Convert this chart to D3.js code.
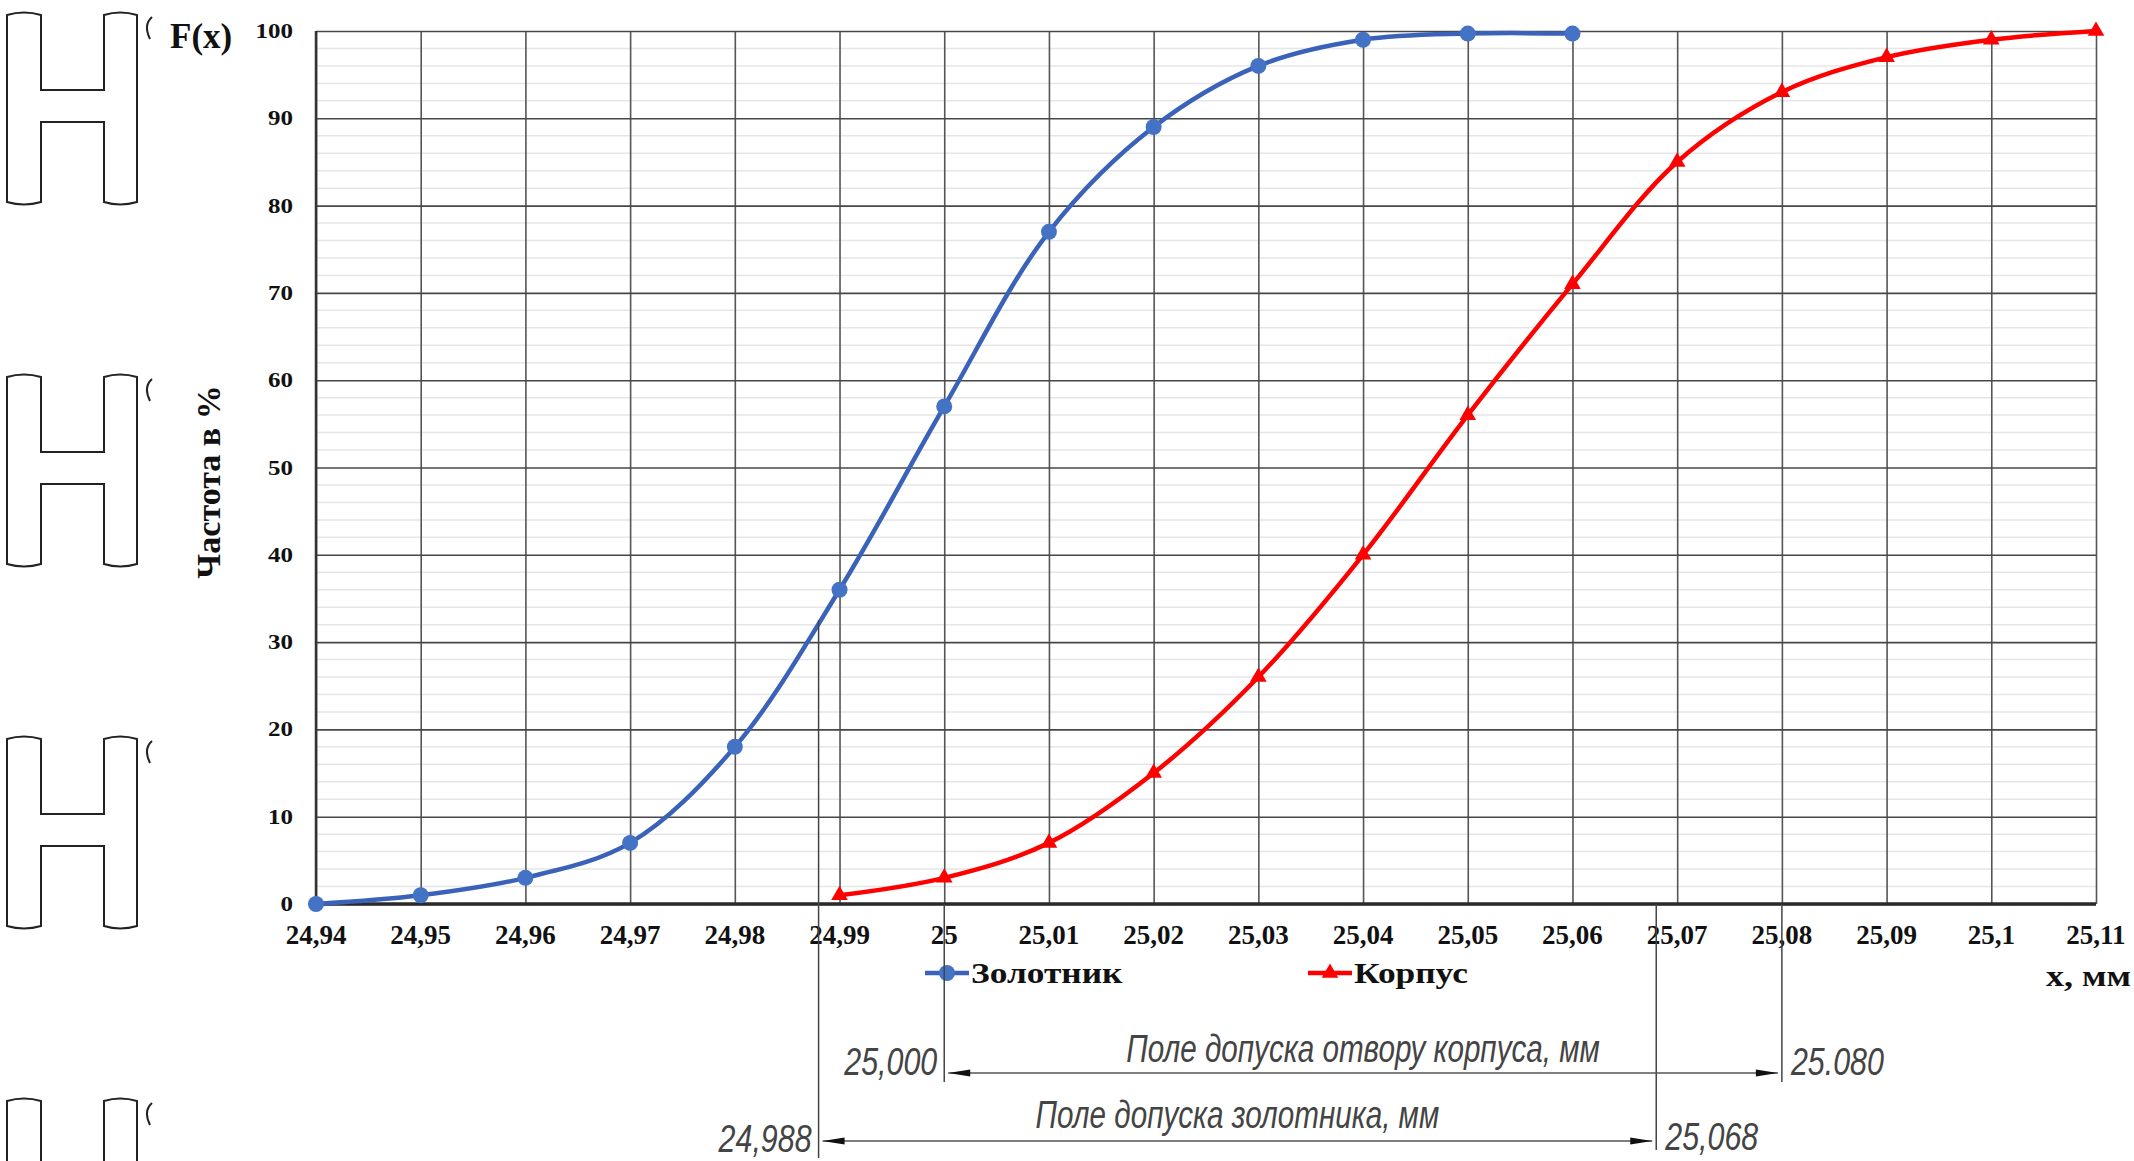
<!DOCTYPE html>
<html>
<head>
<meta charset="utf-8">
<script src="https://cdn.jsdelivr.net/npm/d3@7"></script>
<style>
body { margin: 0; background: #fff; }
svg { display: block; }
.serif { font-family: 'Liberation Serif', 'Times New Roman', serif; font-weight: bold; fill: #111; }
.gost { font-family: 'Liberation Sans', Arial, sans-serif; font-style: italic; fill: #444; }
</style>
</head>
<body>
<script>

// values
const xTicks = [24.94, 24.95, 24.96, 24.97, 24.98, 24.99, 25.00, 25.01, 25.02,
	25.03, 25.04, 25.05, 25.06, 25.07, 25.08, 25.09, 25.10, 25.11]
const yTicks = [0, 10, 20, 30, 40, 50, 60, 70, 80, 90, 100]

const zolotnikX = [24.94, 24.95, 24.96, 24.97, 24.98, 24.99, 25.00, 25.01, 25.02, 25.03, 25.04, 25.05, 25.06]
const zolotnikY = [0, 1, 3, 7, 18, 36, 57, 77, 89, 96, 99, 99.7, 99.7]

const korpusX = [24.99, 25.00, 25.01, 25.02, 25.03, 25.04, 25.05, 25.06, 25.07, 25.08, 25.09, 25.10, 25.11]
const korpusY = [1, 3, 7, 15, 26, 40, 56, 71, 85, 93, 97, 99, 100]

const tolZolotnik = [24.988, 25.068]
const tolKorpus = [25.000, 25.080]
const tolZolotnikLabels = ['24,988', '25,068']
const tolKorpusLabels = ['25,000', '25.080']

const seriesNames = ['Золотник', 'Корпус']


const width = 2134
const height = 1161
const plot = {
	top: 31,
	right: 2096,
	bottom: 904,
	left: 316
}

const blue = '#4472c4'
const blueLine = '#3a62b8'
const red = '#ff0000'

const x = d3.scaleLinear().domain([24.94, 25.11]).range([plot.left, plot.right])
const y = d3.scaleLinear().domain([0, 100]).range([plot.bottom, plot.top])

const fmt = function(d) { return String(+d.toFixed(2)).replace('.', ',') }

const svg = d3.select('body').append('svg')
	.attr('width', width)
	.attr('height', height)

// cut-off drawings at the left edge of the scan
const hTops = [15, 377, 739, 1101]
function hShape(t) {
	const p = d3.path()
	p.moveTo(7, t)
	p.quadraticCurveTo(24, t - 5, 41, t)
	p.lineTo(41, t + 75)
	p.lineTo(104, t + 75)
	p.lineTo(104, t)
	p.quadraticCurveTo(120, t - 5, 137, t)
	p.lineTo(137, t + 187)
	p.quadraticCurveTo(120, t + 192, 104, t + 187)
	p.lineTo(104, t + 107)
	p.lineTo(41, t + 107)
	p.lineTo(41, t + 187)
	p.quadraticCurveTo(24, t + 192, 7, t + 187)
	p.closePath()
	p.moveTo(152, t + 2)
	p.quadraticCurveTo(143, t + 10, 150, t + 24)
	return p.toString()
}
svg.selectAll('.hshape')
	.data(hTops)
.enter().append('path')
	.attr('class', 'hshape')
	.attr('d', hShape)
	.style('fill', 'none')
	.style('stroke', '#222')
	.style('stroke-width', 2)

// grid
const yMinor = d3.range(0, 100, 2).filter(function(d) { return d % 10 !== 0 })
svg.append('g')
	.selectAll('line')
	.data(yMinor)
.enter().append('line')
	.attr('x1', plot.left)
	.attr('x2', plot.right)
	.attr('y1', function(d) { return y(d) })
	.attr('y2', function(d) { return y(d) })
	.style('stroke', '#e6e6e6')
	.style('stroke-width', 1.5)

svg.append('g')
	.attr('transform', 'translate(0,' + plot.bottom + ')')
	.call(d3.axisBottom(x).tickValues(xTicks).tickSize(-(plot.bottom - plot.top)).tickFormat(''))
	.call(function(g) { g.select('.domain').remove() })
	.selectAll('line')
		.style('stroke', '#555')
		.style('stroke-width', 1.6)

svg.append('g')
	.attr('transform', 'translate(' + plot.left + ',0)')
	.call(d3.axisLeft(y).tickValues(yTicks).tickSize(-(plot.right - plot.left)).tickFormat(''))
	.call(function(g) { g.select('.domain').remove() })
	.selectAll('line')
		.style('stroke', '#474747')
		.style('stroke-width', 1.6)

// axes
svg.append('line')
	.attr('x1', plot.left).attr('x2', plot.left)
	.attr('y1', plot.top).attr('y2', plot.bottom)
	.style('stroke', '#333')
	.style('stroke-width', 2.5)

svg.append('line')
	.attr('x1', plot.left).attr('x2', plot.right)
	.attr('y1', plot.bottom).attr('y2', plot.bottom)
	.style('stroke', '#2a2a2a')
	.style('stroke-width', 3.5)

svg.append('g')
	.selectAll('text')
	.data(xTicks)
.enter().append('text')
	.attr('class', 'serif')
	.attr('x', function(d) { return x(d) })
	.attr('y', plot.bottom + 40)
	.style('text-anchor', 'middle')
	.style('font-size', '27px')
	.text(fmt)

svg.append('g')
	.selectAll('text')
	.data(yTicks)
.enter().append('text')
	.attr('class', 'serif')
	.attr('transform', function(d) { return 'translate(' + (plot.left - 23) + ',' + y(d) + ') scale(1,0.8)' })
	.attr('dy', '0.35em')
	.style('text-anchor', 'end')
	.style('font-size', '25px')
	.text(function(d) { return d })

svg.append('text')
	.attr('class', 'serif')
	.attr('x', 170)
	.attr('y', 48)
	.style('font-size', '35px')
	.text('F(x)')

svg.append('text')
	.attr('class', 'serif')
	.attr('transform', 'translate(220,482) rotate(-90)')
	.style('text-anchor', 'middle')
	.style('font-size', '34px')
	.text('Частота в %')

svg.append('text')
	.attr('class', 'serif')
	.attr('transform', 'translate(2046,986) scale(1.2,1)')
	.style('font-size', '30px')
	.text('x, мм')

// series
const line = d3.line()
	.x(function(d) { return x(d[0]) })
	.y(function(d) { return y(d[1]) })
	.curve(d3.curveCatmullRom.alpha(0.5))

const zolotnik = d3.zip(zolotnikX, zolotnikY)
const korpus = d3.zip(korpusX, korpusY)

svg.append('path')
	.datum(zolotnik)
	.attr('d', line)
	.style('fill', 'none')
	.style('stroke', blueLine)
	.style('stroke-width', 4.5)

svg.selectAll('.zol')
	.data(zolotnik)
.enter().append('circle')
	.attr('class', 'zol')
	.attr('cx', function(d) { return x(d[0]) })
	.attr('cy', function(d) { return y(d[1]) })
	.attr('r', 8)
	.style('fill', blue)

svg.append('path')
	.datum(korpus)
	.attr('d', line)
	.style('fill', 'none')
	.style('stroke', red)
	.style('stroke-width', 4.5)

const tri = d3.symbol().type(d3.symbolTriangle).size(120)
svg.selectAll('.kor')
	.data(korpus)
.enter().append('path')
	.attr('class', 'kor')
	.attr('transform', function(d) { return 'translate(' + x(d[0]) + ',' + y(d[1]) + ')' })
	.attr('d', tri)
	.style('fill', red)

// legend
const legendX = [925, 1308]
const legendY = 973
const legend = svg.append('g')
legend.selectAll('line')
	.data(legendX)
.enter().append('line')
	.attr('x1', function(d) { return d })
	.attr('x2', function(d) { return d + 44 })
	.attr('y1', legendY)
	.attr('y2', legendY)
	.style('stroke', function(d, i) { return i ? red : blueLine })
	.style('stroke-width', 4.5)
legend.append('circle')
	.attr('cx', legendX[0] + 22)
	.attr('cy', legendY)
	.attr('r', 8)
	.style('fill', blue)
legend.append('path')
	.attr('transform', 'translate(' + (legendX[1] + 22) + ',' + legendY + ')')
	.attr('d', tri)
	.style('fill', red)
legend.selectAll('text')
	.data(seriesNames)
.enter().append('text')
	.attr('class', 'serif')
	.attr('transform', function(d, i) { return 'translate(' + (legendX[i] + 46) + ',983) scale(1.22,1)' })
	.style('font-size', '29px')
	.text(function(d) { return d })

// tolerance fields drawn under the chart
const ann = svg.append('g')
const extLines = [
	{ v: tolZolotnik[0], y1: 620, y2: 1158 },
	{ v: tolKorpus[0], y1: plot.bottom, y2: 1082 },
	{ v: tolZolotnik[1], y1: plot.bottom, y2: 1150 },
	{ v: tolKorpus[1], y1: plot.bottom, y2: 1082 }
]
ann.selectAll('.ext')
	.data(extLines)
.enter().append('line')
	.attr('class', 'ext')
	.attr('x1', function(d) { return x(d.v) })
	.attr('x2', function(d) { return x(d.v) })
	.attr('y1', function(d) { return d.y1 })
	.attr('y2', function(d) { return d.y2 })
	.style('stroke', '#444')
	.style('stroke-width', 1.5)

const dims = [
	{ a: tolKorpus[0], b: tolKorpus[1], y: 1073, text: 'Поле допуска отвору корпуса, мм', ty: 1062,
		la: tolKorpusLabels[0], lb: tolKorpusLabels[1], lay: 1075, lby: 1075 },
	{ a: tolZolotnik[0], b: tolZolotnik[1], y: 1141, text: 'Поле допуска золотника, мм', ty: 1128,
		la: tolZolotnikLabels[0], lb: tolZolotnikLabels[1], lay: 1152, lby: 1150 }
]

dims.forEach(function(d) {
	const xa = x(d.a) + 4
	const xb = x(d.b) - 4
	ann.append('line')
		.attr('x1', xa).attr('x2', xb)
		.attr('y1', d.y).attr('y2', d.y)
		.style('stroke', '#555')
		.style('stroke-width', 1.5)
	ann.append('path')
		.attr('d', 'M' + xa + ',' + d.y + 'l22,-3.5v7z' + 'M' + xb + ',' + d.y + 'l-22,-3.5v7z')
		.style('fill', '#111')
	ann.append('text')
		.attr('class', 'gost')
		.attr('transform', 'translate(' + ((xa + xb) / 2) + ',' + d.ty + ') scale(0.78,1)')
		.style('text-anchor', 'middle')
		.style('font-size', '38px')
		.text(d.text)
	ann.append('text')
		.attr('class', 'gost')
		.attr('transform', 'translate(' + (x(d.a) - 7) + ',' + d.lay + ') scale(0.8,1)')
		.style('text-anchor', 'end')
		.style('font-size', '38px')
		.text(d.la)
	ann.append('text')
		.attr('class', 'gost')
		.attr('transform', 'translate(' + (x(d.b) + 9) + ',' + d.lby + ') scale(0.8,1)')
		.style('font-size', '38px')
		.text(d.lb)
})

</script>
</body>
</html>
